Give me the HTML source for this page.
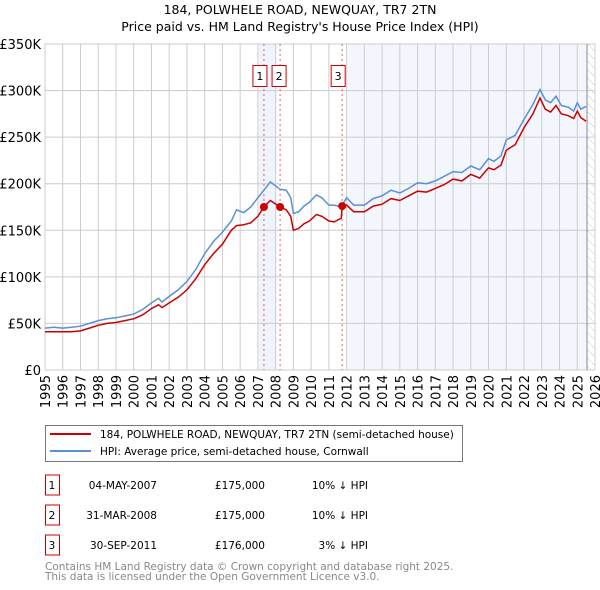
<!DOCTYPE html>
<html><head><meta charset="utf-8"><style>
body{margin:0;background:#fff;}
svg{display:block;font-family:"DejaVu Sans","Liberation Sans",sans-serif;}
</style></head><body>
<svg id="chart" width="600" height="590" viewBox="0 0 600 590" xmlns="http://www.w3.org/2000/svg">
<text x="300" y="14" font-size="12.5" text-anchor="middle">184, POLWHELE ROAD, NEWQUAY, TR7 2TN</text>
<text x="300" y="31" font-size="12.5" text-anchor="middle">Price paid vs. HM Land Registry's House Price Index (HPI)</text>
<g id="plot"></g>
<g>
<rect x="45.5" y="425.5" width="417" height="36" fill="#fff" stroke="#777"/>
<line x1="50" y1="434" x2="91" y2="434" stroke="#cc0000" stroke-width="2"/>
<text x="100" y="438" font-size="10.5">184, POLWHELE ROAD, NEWQUAY, TR7 2TN (semi-detached house)</text>
<line x1="50" y1="451" x2="91" y2="451" stroke="#5b8fd6" stroke-width="2"/>
<text x="100" y="455" font-size="10.5">HPI: Average price, semi-detached house, Cornwall</text>
</g>
<g id="table" font-size="10.5"></g>
<text x="45" y="570" font-size="10.5" fill="#888">Contains HM Land Registry data © Crown copyright and database right 2025.</text>
<text x="45" y="580" font-size="10.5" fill="#888">This data is licensed under the Open Government Licence v3.0.</text>
</svg>
<script>
const dates=[1995,1995.5,1996,1996.5,1997,1997.5,1998,1998.5,1999,1999.5,2000,2000.5,2001,2001.4,2001.6,2002,2002.5,2003,2003.5,2004,2004.5,2005,2005.5,2005.8,2006.2,2006.6,2007,2007.34,2007.7,2008.25,2008.6,2008.85,2009.0,2009.3,2009.6,2009.9,2010.3,2010.6,2011,2011.3,2011.7,2011.75,2012,2012.4,2013,2013.5,2014,2014.5,2015,2015.5,2016,2016.5,2017,2017.5,2018,2018.5,2019,2019.5,2020,2020.3,2020.7,2021,2021.5,2022,2022.5,2022.9,2023.2,2023.5,2023.8,2024.1,2024.5,2024.8,2025,2025.2,2025.5];
const hpiValues=[45,46,45,46,47,50,53,55,56,58,60,65,72,77,73,79,86,95,108,125,138,148,160,172,169,175,185,193,202,194,193,185,168,170,176,180,188,185,177,177,175,177,185,177,177,184,187,193,190,195,201,200,203,208,213,212,219,215,227,224,230,247,252,269,285,301,290,287,294,284,282,278,287,280,283];
const priceValues=[41,41,41,41,42,45,48,50,51,53,55,59,66,70,67,72,78,86,98,113,125,135,150,155,156,158,165,175,182,175,172,165,150,152,157,160,167,165,160,159,163,176,177,170,170,176,178,184,182,187,192,191,195,199,205,203,210,206,217,215,220,236,242,260,275,292,280,277,284,275,273,270,278,271,267];
const saleDates=[2007.34,2008.25,2011.75];
const salePrices=[175,175,176];
const saleLabels=["1","2","3"];
const saleDateText=["04-MAY-2007","31-MAR-2008","30-SEP-2011"];
const salePriceText=["£175,000","£175,000","£176,000"];
const saleDiffText=["10% ↓ HPI","10% ↓ HPI","3% ↓ HPI"];
const yTicks=[0,50,100,150,200,250,300,350];
const yTickLabels=["£0","£50K","£100K","£150K","£200K","£250K","£300K","£350K"];
const xYears=[1995,1996,1997,1998,1999,2000,2001,2002,2003,2004,2005,2006,2007,2008,2009,2010,2011,2012,2013,2014,2015,2016,2017,2018,2019,2020,2021,2022,2023,2024,2025,2026];

const L=45,R=595,T=44,B=370;
const x=d=>L+(d-1995)/(2026-1995)*(R-L);
const y=v=>B-v/350*(B-T);
const NS="http://www.w3.org/2000/svg";
const plot=document.getElementById('plot');
function mk(tag,attrs,parent){const e=document.createElementNS(NS,tag);for(const k in attrs)e.setAttribute(k,attrs[k]);(parent||plot).appendChild(e);return e;}

let s1=mk('rect',{x:x(2007.05),y:T,width:x(2008.05)-x(2007.05),height:B-T,fill:'#eef3fc'});


let s2=mk('rect',{x:x(2012.05),y:T,width:x(2025.55)-x(2012.05),height:B-T,fill:'#f3f6fd'});


const defs=mk('defs',{});
const pat=mk('pattern',{id:'hatch',width:6,height:6,patternUnits:'userSpaceOnUse',patternTransform:'rotate(-45)'},defs);
mk('line',{x1:0,y1:0,x2:0,y2:6,stroke:'#ccc','stroke-width':1},pat);
let h=mk('rect',{x:x(2025.55),y:T,width:R-x(2025.55),height:B-T,fill:'url(#hatch)'});



yTicks.forEach((v,i)=>{
  let g=mk('line',{x1:L,x2:R,y1:y(v),y2:y(v),stroke:'#ccc','stroke-width':1});
  
  
  let t=mk('text',{x:L-4,y:y(v)+5,'font-size':13,'text-anchor':'end'});
  t.textContent=yTickLabels[i];
  
  
});
xYears.forEach(yr=>{
  let g=mk('line',{x1:x(yr),x2:x(yr),y1:T,y2:B,stroke:'#ccc','stroke-width':1});
  
  
  let t=mk('text',{x:0,y:0,'font-size':13,'text-anchor':'end',transform:`translate(${x(yr)+5},${B+5}) rotate(-90)`});
  t.textContent=yr;
  
  
});
let ed=mk('line',{x1:x(2025.55),x2:x(2025.55),y1:T,y2:B,stroke:'#888','stroke-width':1});



saleDates.forEach((d,i)=>{
  let l=mk('line',{x1:x(d),x2:x(d),y1:T,y2:B,stroke:'#e06060','stroke-width':1,'stroke-dasharray':'2,3'});
  
  
  const bx=(i===0)?x(d)-4:(i===1?x(d)-1:x(d)-4);
  let r=mk('rect',{x:bx-7,y:65.5,width:14,height:21,fill:'#fff',stroke:'#cc0000'});
  
  
  let t=mk('text',{x:bx,y:80,'font-size':11,'text-anchor':'middle'});
  t.textContent=saleLabels[i];
  
  
});

function path(vals){return vals.map((v,i)=>(i?'L':'M')+x(dates[i]).toFixed(1)+','+y(v).toFixed(1)).join('');}
let hp=mk('path',{d:path(hpiValues),fill:'none',stroke:'#5b8fd6','stroke-width':1.5});


let pp=mk('path',{d:path(priceValues),fill:'none',stroke:'#cc0000','stroke-width':1.5});


saleDates.forEach((d,i)=>{
  let c=mk('circle',{cx:x(d),cy:y(salePrices[i]),r:4,fill:'#cc0000'});
  
  
});

const tb=document.getElementById('table');
saleDates.forEach((d,i)=>{
  const cy=485+i*30;
  let r=mk('rect',{x:45.5,y:cy-10,width:14,height:20,fill:'#fff',stroke:'#cc0000'},tb);
  
  
  const cells=[[52,saleLabels[i],'middle'],[157,saleDateText[i],'end'],[265,salePriceText[i],'end'],[368,saleDiffText[i],'end']];
  cells.forEach(c=>{
    let t=mk('text',{x:c[0],y:cy+4,'text-anchor':c[2]},tb);
    t.textContent=c[1];
    
    
  });
});
</script>
</body></html>
